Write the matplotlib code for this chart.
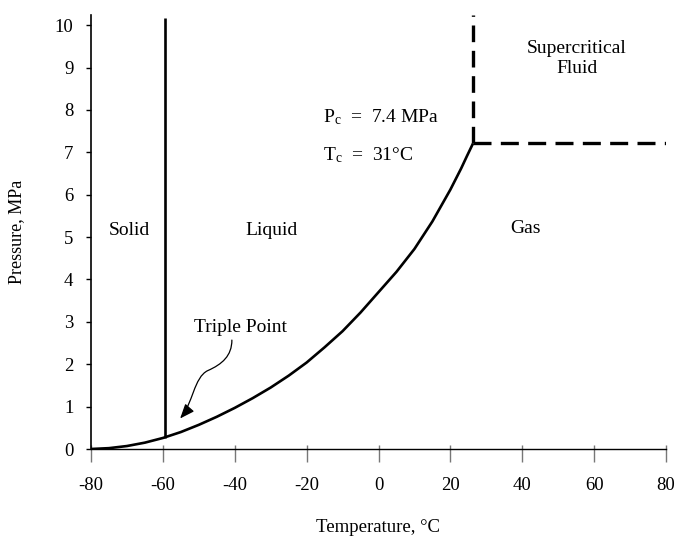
import numpy as np
import matplotlib
matplotlib.use("Agg")
import matplotlib.pyplot as plt
from matplotlib.path import Path
from matplotlib.patches import FancyArrowPatch

plt.rcParams['font.family'] = ['Liberation Serif', 'DejaVu Serif']
plt.rcParams['mathtext.fontset'] = 'custom'
plt.rcParams['mathtext.rm'] = 'Liberation Serif'
plt.rcParams['mathtext.it'] = 'Liberation Serif:italic'

# Vaporization curve (liquid-gas boundary)
vap_T = [-80, -75, -70, -65, -60, -55, -50, -45, -40, -35, -30, -25, -20,
         -15, -10, -5, 0, 5, 10, 15, 20, 23, 24.6, 26.3]
vap_P = [0.0, 0.02, 0.07, 0.15, 0.26, 0.40, 0.57, 0.76, 0.97, 1.20, 1.45,
         1.73, 2.04, 2.40, 2.78, 3.22, 3.70, 4.18, 4.72, 5.37, 6.12, 6.62,
         6.91, 7.21]

# Melting line (solid-liquid boundary)
melt_T = [-59.4, -59.4]
melt_P = [0.27, 10.17]

# Critical point boundaries (dashed)
crit_vT = [26.3, 26.3]
crit_vP = [7.21, 10.24]
crit_hT = [26.3, 80]
crit_hP = [7.21, 7.21]

xticks = [-80, -60, -40, -20, 0, 20, 40, 60, 80]
yticks = [0, 1, 2, 3, 4, 5, 6, 7, 8, 9, 10]

fig = plt.figure(figsize=(6.79, 5.38), dpi=100)
ax = fig.add_axes([91/679, 1-449/538, 575/679, 434/538])
ax.set_xlim(-80, 80)
ax.set_ylim(0, 10.24)

ax.plot(vap_T, vap_P, color='black', lw=1.9, solid_capstyle='butt',
        solid_joinstyle='round')
ax.plot(melt_T, melt_P, color='black', lw=1.9, solid_capstyle='butt')
ax.plot(crit_vT, crit_vP, color='black', lw=2.4, dashes=(5.0, 2.6))
ax.plot(crit_hT, crit_hP, color='black', lw=2.4, dashes=(5.4, 2.8))

for s in ['top', 'right']:
    ax.spines[s].set_visible(False)
ax.spines['left'].set_linewidth(1.2)
ax.spines['bottom'].set_linewidth(1.0)

ax.set_xticks(xticks)
ax.set_xticklabels([str(v) for v in xticks])
ax.set_yticks(yticks)
ax.set_yticklabels([str(v) for v in yticks])
ax.tick_params(axis='x', direction='out', length=9.4, width=1.0, color='#777777',
               labelsize=13.5, pad=10.5)
ax.set_xticks(xticks, minor=True)
ax.xaxis.remove_overlapping_locs = False
ax.tick_params(axis='x', which='minor', direction='in', length=3, width=1.0,
               color='#777777')
ax.tick_params(axis='y', direction='out', length=3.6, width=1.0, color='black',
               labelsize=13.5, pad=9)

ax.set_xlabel('Temperature, °C', fontsize=13.5, labelpad=18)
ax.set_ylabel('Pressure, MPa', fontsize=13, labelpad=21)

ax.text(-69.4, 5.05, 'Solid', fontsize=14, ha='center', va='baseline')
ax.text(-29.9, 5.05, 'Liquid', fontsize=14, ha='center', va='baseline')
ax.text(40.8, 5.09, 'Gas', fontsize=14, ha='center', va='baseline')
ax.text(55.2, 9.34, 'Supercritical', fontsize=14, ha='center', va='baseline')
ax.text(55.2, 8.87, 'Fluid', fontsize=14, ha='center', va='baseline')
ax.text(-15.4, 7.71, r'P$_{\mathrm{c}}$  =  7.4 MPa', fontsize=14, ha='left',
        va='baseline')
ax.text(-15.4, 6.82, r'T$_{\mathrm{c}}$  =  31°C', fontsize=14, ha='left',
        va='baseline')
ax.text(-38.5, 2.77, 'Triple Point', fontsize=14, ha='center', va='baseline')

verts = [(-40.8, 2.57), (-40.8, 2.2), (-43.5, 2.0), (-47.5, 1.85),
         (-51.3, 1.7), (-51.8, 1.05), (-55.2, 0.72)]
codes = [Path.MOVETO, Path.CURVE4, Path.CURVE4, Path.CURVE4,
         Path.CURVE4, Path.CURVE4, Path.CURVE4]
arrow = FancyArrowPatch(path=Path(verts, codes),
                        arrowstyle='-|>,head_length=0.55,head_width=0.22',
                        mutation_scale=16, color='black', lw=0.9,
                        shrinkA=0, shrinkB=0)
ax.add_patch(arrow)

fig.savefig('out.png', dpi=100)
